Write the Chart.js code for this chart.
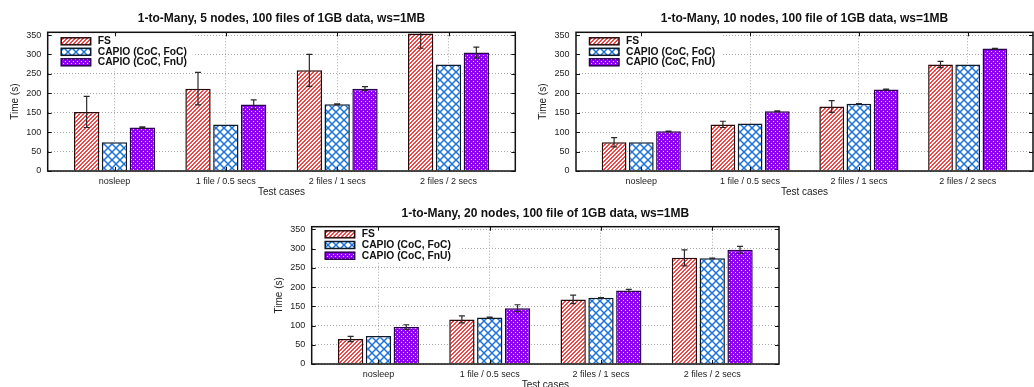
<!DOCTYPE html>
<html>
<head>
<meta charset="utf-8">
<script src="https://cdn.jsdelivr.net/npm/chart.js@4.4.1/dist/chart.umd.min.js"></script>
<style>
  html, body { margin: 0; padding: 0; background: #fff; }
  body { width: 1034px; height: 387px; position: relative; overflow: hidden; }
  canvas { position: absolute; }
</style>
</head>
<body>
<canvas id="c5"></canvas>
<canvas id="c10"></canvas>
<canvas id="c20"></canvas>
<script>
const categories = ["nosleep", "1 file / 0.5 secs", "2 files / 1 secs", "2 files / 2 secs"];
const seriesNames = ["FS", "CAPIO (CoC, FoC)", "CAPIO (CoC, FnU)"];
const yTicks = [0, 50, 100, 150, 200, 250, 300, 350];
const yMax = 357;

// 5 nodes
const fs5 = [152, 212, 259, 354];
const fs5Err = [40, 42, 41, 38];
const foc5 = [74, 120, 172, 274];
const foc5Err = [0, 0, 1, 0];
const fnu5 = [112, 171, 212, 305];
const fnu5Err = [1.5, 12, 5, 14];

// 10 nodes
const fs10 = [74, 120, 166, 274];
const fs10Err = [12, 8, 15, 8];
const foc10 = [74, 122, 173, 274];
const foc10Err = [0, 0, 0.5, 0];
const fnu10 = [102, 154, 210, 315];
const fnu10Err = [0.5, 1, 1, 1];

// 20 nodes
const fs20 = [65, 116, 168, 276];
const fs20Err = [7, 9, 11, 21];
const foc20 = [73, 121, 172, 275];
const foc20Err = [0, 1, 0.5, 0.5];
const fnu20 = [96, 145, 191, 297];
const fnu20Err = [6, 9, 3, 9];

const FONT = "'Liberation Sans', Arial, sans-serif";

function tile(size, draw) {
  const c = document.createElement("canvas");
  c.width = size; c.height = size;
  const g = c.getContext("2d");
  draw(g, size);
  return document.createElement("canvas").getContext("2d").createPattern(c, "repeat");
}

// "/" stripes, drawn pixel by pixel
const stripes = tile(4, (g, s) => {
  g.fillStyle = "#fff"; g.fillRect(0, 0, s, s);
  g.fillStyle = "#f24646";
  for (let x = 0; x < s; x++) {
    for (let y = 0; y < s; y++) {
      if ((x + y) % 4 < 2) g.fillRect(x, y, 1, 1);
    }
  }
});
const cross = tile(8, (g, s) => {
  g.fillStyle = "#fff"; g.fillRect(0, 0, s, s);
  g.strokeStyle = "#1b74d6"; g.lineWidth = 1.5;
  for (const o of [-s, 0, s]) {
    g.beginPath(); g.moveTo(o, 0); g.lineTo(o + s, s); g.stroke();
    g.beginPath(); g.moveTo(o, s); g.lineTo(o + s, 0); g.stroke();
  }
});
const checker = tile(4, (g, s) => {
  g.fillStyle = "#8e00f0"; g.fillRect(0, 0, s, s);
  g.fillStyle = "#fff";
  g.fillRect(1, 1, 1, 1); g.fillRect(3, 3, 1, 1);
});

const decor = {
  id: "decor",
  afterDatasetsDraw(chart, args, opts) {
    const { ctx, chartArea: a, scales } = chart;
    const y = scales.y;
    // error bars
    ctx.save();
    ctx.beginPath(); ctx.rect(a.left, a.top, a.right - a.left, a.bottom - a.top); ctx.clip();
    ctx.strokeStyle = "#2a2a2a"; ctx.lineWidth = 1.2;
    chart.data.datasets.forEach((ds, di) => {
      chart.getDatasetMeta(di).data.forEach((bar, i) => {
        const e = ds.errors[i];
        if (!e) return;
        const v = ds.data[i].y;
        const y1 = y.getPixelForValue(v + e), y2 = y.getPixelForValue(v - e);
        ctx.beginPath();
        ctx.moveTo(bar.x, y1); ctx.lineTo(bar.x, y2);
        ctx.moveTo(bar.x - 3, y1); ctx.lineTo(bar.x + 3, y1);
        ctx.moveTo(bar.x - 3, y2); ctx.lineTo(bar.x + 3, y2);
        ctx.stroke();
      });
    });
    ctx.restore();

    // legend inside plot
    ctx.save();
    ctx.fillStyle = "#fff";
    ctx.fillRect(a.left + 1, a.top + 1, opts.bgWidth, 35);
    chart.data.datasets.forEach((ds, i) => {
      const cy = a.top + opts.rowTop + i * opts.rowGap;
      ctx.fillStyle = ds.backgroundColor;
      ctx.fillRect(a.left + 13.5, cy - 3.5, 29.5, 7);
      ctx.strokeStyle = ds.borderColor; ctx.lineWidth = 1.5;
      ctx.strokeRect(a.left + 13.5, cy - 3.5, 29.5, 7);
      ctx.fillStyle = "#111";
      ctx.font = "bold 10.3px " + FONT;
      ctx.textBaseline = "middle";
      ctx.fillText(ds.label, a.left + 50, cy);
    });
    ctx.restore();

    // frame and inward tick marks
    ctx.save();
    ctx.strokeStyle = "#111"; ctx.lineWidth = 1;
    ctx.beginPath();
    yTicks.forEach((t) => {
      const py = Math.round(y.getPixelForValue(t)) + 0.5;
      ctx.moveTo(a.left, py); ctx.lineTo(a.left + 4, py);
      ctx.moveTo(a.right, py); ctx.lineTo(a.right - 4, py);
    });
    categories.forEach((c, i) => {
      const px = Math.round(scales.x.getPixelForValue(i)) + 0.5;
      ctx.moveTo(px, a.bottom); ctx.lineTo(px, a.bottom - 4);
      ctx.moveTo(px, a.top); ctx.lineTo(px, a.top + 4);
    });
    ctx.stroke();
    ctx.lineWidth = 1.5;
    ctx.strokeRect(a.left, a.top, a.right - a.left, a.bottom - a.top);
    ctx.restore();
  }
};

function makeChart(geo, title, series) {
  const canvas = document.getElementById(geo.id);
  canvas.width = geo.width; canvas.height = geo.height;
  canvas.style.left = geo.left + "px"; canvas.style.top = geo.top + "px";
  const fills = [stripes, cross, checker];
  const borders = ["#2a0a0a", "#0d1a2a", "#2c0050"];
  new Chart(canvas, {
    type: "bar",
    data: {
      datasets: series.map((s, k) => ({
        label: seriesNames[k],
        data: s.values.map((v, i) => ({ x: i, y: v })),
        errors: s.errors,
        backgroundColor: fills[k],
        borderColor: borders[k],
        borderWidth: 1.5,
        categoryPercentage: 0.75,
        barPercentage: 0.91,
      })),
    },
    options: {
      responsive: false,
      animation: false,
      devicePixelRatio: 1,
      layout: { padding: { left: 0, right: geo.padR, top: 0, bottom: 0 } },
      plugins: {
        legend: { display: false },
        tooltip: { enabled: false },
        title: {
          display: true, text: title, fullSize: false, color: "#111",
          font: { family: FONT, size: 12, weight: "bold" },
          padding: { top: geo.titleTop, bottom: geo.titleBottom },
        },
        decor: { bgWidth: geo.bgWidth, rowTop: geo.rowTop, rowGap: geo.rowGap },
      },
      scales: {
        x: {
          type: "linear", min: -0.6, max: 3.6, offset: false,
          afterBuildTicks: (s) => { s.ticks = categories.map((c, i) => ({ value: i })); },
          afterFit: (s) => { s.height = 30; },
          ticks: {
            callback: (v) => categories[v], maxRotation: 0, autoSkip: false,
            padding: 5.5, color: "#222", font: { family: FONT, size: 9 },
          },
          grid: { offset: false, color: "#a8a8a8", lineWidth: 1, drawTicks: false, borderDash: [1, 2] },
          border: { display: false, dash: [1, 2] },
          title: {
            display: true, text: "Test cases", color: "#222",
            font: { family: FONT, size: 10 }, padding: { top: 0, bottom: 2.3 },
          },
        },
        y: {
          min: 0, max: yMax,
          afterBuildTicks: (s) => { s.ticks = yTicks.map((v) => ({ value: v })); },
          afterFit: (s) => { s.width = geo.axisW; },
          ticks: { padding: 6.5, color: "#222", font: { family: FONT, size: 9 } },
          grid: { color: "#a8a8a8", lineWidth: 1, drawTicks: false, borderDash: [1, 2] },
          border: { display: false, dash: [1, 2] },
          title: {
            display: true, text: "Time (s)", color: "#222",
            font: { family: FONT, size: 10 }, padding: { top: 9, bottom: 0 },
          },
        },
      },
    },
    plugins: [decor],
  });
}

makeChart(
  { id: "c5", left: 0, top: 0, width: 518, height: 201, axisW: 47.7, padR: 2.7,
    titleTop: 11.1, titleBottom: 6.8, bgWidth: 144, rowTop: 9, rowGap: 10.5 },
  "1-to-Many, 5 nodes, 100 files of 1GB data, ws=1MB",
  [{ values: fs5, errors: fs5Err }, { values: foc5, errors: foc5Err }, { values: fnu5, errors: fnu5Err }]
);
makeChart(
  { id: "c10", left: 528, top: 0, width: 506, height: 201, axisW: 48, padR: 1,
    titleTop: 11.1, titleBottom: 6.8, bgWidth: 144, rowTop: 9, rowGap: 10.5 },
  "1-to-Many, 10 nodes, 100 file of 1GB data, ws=1MB",
  [{ values: fs10, errors: fs10Err }, { values: foc10, errors: foc10Err }, { values: fnu10, errors: fnu10Err }]
);
makeChart(
  { id: "c20", left: 264, top: 197, width: 518, height: 197, axisW: 47.7, padR: 3,
    titleTop: 9.5, titleBottom: 5.8, bgWidth: 147, rowTop: 7.6, rowGap: 10.7 },
  "1-to-Many, 20 nodes, 100 file of 1GB data, ws=1MB",
  [{ values: fs20, errors: fs20Err }, { values: foc20, errors: foc20Err }, { values: fnu20, errors: fnu20Err }]
);
</script>
</body>
</html>
